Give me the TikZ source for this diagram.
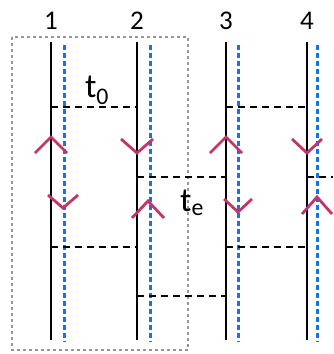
\documentclass[tikz,border=0pt]{standalone}
\usepackage{amsmath}
\usepackage{fontspec}
\setmainfont{Carlito}
\usetikzlibrary{positioning}

\definecolor{kinkred}{RGB}{196,52,104}
\definecolor{blueline}{RGB}{30,110,230}
\definecolor{boxgray}{RGB}{150,150,150}

\begin{document}
\begin{tikzpicture}[
    x=1pt, y=-1pt,
    numlabel/.style={font=\fontsize{27}{30}\selectfont, inner sep=0pt},
    tlabel/.style={font=\fontsize{34}{38}\selectfont, inner sep=0pt},
    worldline/.style={line width=2.8pt, black},
    ghostline/.style={line width=3pt, blueline, dash pattern=on 5pt off 3pt},
    rung/.style={line width=2.8pt, black, dash pattern=on 7pt off 5pt},
    boxline/.style={line width=1.6pt, boxgray, dash pattern=on 3pt off 3pt},
    kink/.style={line width=2.8pt, kinkred},
]
\useasboundingbox (0,0) rectangle (333,354);

% Labels
\node[numlabel] (n1) at (51,21) {1};
\node[numlabel] (n2) at (137,21) {2};
\node[numlabel] (n3) at (226,21) {3};
\node[numlabel] (n4) at (307,21) {4};

% Line ends
\coordinate (top1) at (51,42);  \coordinate (bot1) at (51,340);
\coordinate (top2) at (137,42); \coordinate (bot2) at (137,340);
\coordinate (top3) at (226,42); \coordinate (bot3) at (226,340);
\coordinate (top4) at (307,42); \coordinate (bot4) at (307,340);

\coordinate (btop1) at (64,45);  \coordinate (bbot1) at (64,342);
\coordinate (btop2) at (150,45); \coordinate (bbot2) at (150,342);
\coordinate (btop3) at (238,45); \coordinate (bbot3) at (238,342);
\coordinate (btop4) at (317,45); \coordinate (bbot4) at (317,342);

% Rung heights
\coordinate (h1) at (0,107);
\coordinate (h2) at (0,177);
\coordinate (h3) at (0,247);
\coordinate (h4) at (0,296);
\coordinate (edge) at (333,177);

% Dotted box
\coordinate (boxa) at (12,37);
\coordinate (boxb) at (188,350);
\draw[boxline] (boxa) rectangle (boxb);

% Blue dotted lines
\draw[ghostline] (btop1) -- (bbot1);
\draw[ghostline] (btop2) -- (bbot2);
\draw[ghostline] (btop3) -- (bbot3);
\draw[ghostline] (btop4) -- (bbot4);

% Solid lines
\draw[worldline] (top1) -- (bot1);
\draw[worldline] (top2) -- (bot2);
\draw[worldline] (top3) -- (bot3);
\draw[worldline] (top4) -- (bot4);

% Dashed rungs
\draw[rung] (top1 |- h1) -- (top2 |- h1);
\draw[rung] (top3 |- h1) -- (top4 |- h1);
\draw[rung] (top2 |- h2) -- (top3 |- h2);
\draw[rung] (top4 |- h2) -- (edge);
\draw[rung] (top1 |- h3) -- (top2 |- h3);
\draw[rung] (top3 |- h3) -- (top4 |- h3);
\draw[rung] (top2 |- h4) -- (top3 |- h4);

% Upper kinks
\draw[kink] (35,153) -- (51,137) -- (67,153);
\draw[kink] (121,139) -- (137,153) -- (153,139);
\draw[kink] (210,153) -- (226,137) -- (242,153);
\draw[kink] (292,139) -- (307,153) -- (322,139);

% Lower kinks
\draw[kink] (48,195) -- (63,208) -- (78,195);
\draw[kink] (132,218) -- (148,201) -- (164,218);
\draw[kink] (224,199) -- (238,212) -- (252,199);
\draw[kink] (302,214) -- (317,197) -- (332,214);

% Times
\node[tlabel] (t0) at (97,90) {$\text{t}_{\text{0}}$};
\node[tlabel] (te) at (192,203) {$\text{t}_{\text{e}}$};

\end{tikzpicture}
\end{document}
